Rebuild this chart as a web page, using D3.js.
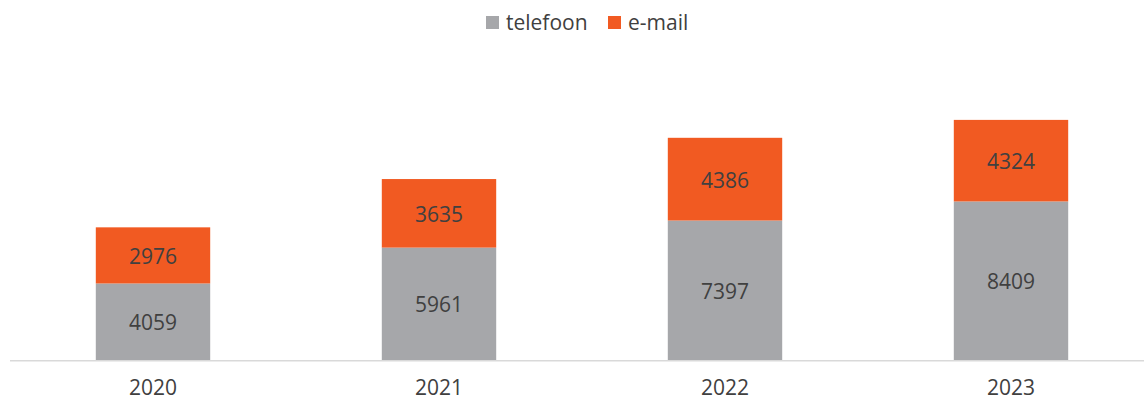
<!DOCTYPE html>
<html>
<head>
<meta charset="utf-8">
<script src="https://cdn.jsdelivr.net/npm/d3@7"></script>
<style>
  body { margin: 0; background: #fff; }
  text { font-family: "Open Sans", sans-serif; fill: #404040; }
</style>
</head>
<body>
<div id="chart"></div>
<script>
const years = ["2020", "2021", "2022", "2023"];
const telefoon = [4059, 5961, 7397, 8409];
const email = [2976, 3635, 4386, 4324];
const seriesNames = ["telefoon", "e-mail"];
const colors = ["#a6a7aa", "#f15a22"];

const WIDTH = 1144, HEIGHT = 400;
const MARGIN = { TOP: 96, BOTTOM: 40, LEFT: 10, RIGHT: -10 };

const svg = d3.select("#chart").append("svg")
  .attr("width", WIDTH).attr("height", HEIGHT);

const data = years.map((y, i) => ({ year: y, telefoon: telefoon[i], "e-mail": email[i] }));
const stacked = d3.stack().keys(seriesNames)(data);

const x = d3.scaleBand()
  .domain(years)
  .range([MARGIN.LEFT, WIDTH - MARGIN.RIGHT])
  .paddingInner(0.6)
  .paddingOuter(0.3);

const y = d3.scaleLinear()
  .domain([0, 14000])
  .range([HEIGHT - MARGIN.BOTTOM, MARGIN.TOP]);

const layer = svg.selectAll("g.layer").data(stacked).enter()
  .append("g").attr("class", "layer")
  .attr("fill", (d, i) => colors[i]);

layer.selectAll("rect").data(d => d).enter().append("rect")
  .attr("x", d => x(d.data.year))
  .attr("width", x.bandwidth())
  .attr("y", d => y(d[1]))
  .attr("height", d => y(d[0]) - y(d[1]));

layer.selectAll("text").data(d => d).enter().append("text")
  .attr("x", d => x(d.data.year) + x.bandwidth() / 2)
  .attr("y", d => (y(d[0]) + y(d[1])) / 2 + 1)
  .attr("dy", "0.35em")
  .attr("text-anchor", "middle")
  .style("font-size", "21px")
  .text(d => d[1] - d[0]);

// axis
svg.append("line")
  .attr("x1", MARGIN.LEFT).attr("x2", WIDTH)
  .attr("y1", y(0) + 0.75).attr("y2", y(0) + 0.75)
  .attr("stroke", "#d9d9d9").attr("stroke-width", 1.5);

svg.selectAll("text.year").data(years).enter().append("text")
  .attr("class", "year")
  .attr("x", d => x(d) + x.bandwidth() / 2)
  .attr("y", 395)
  .attr("text-anchor", "middle")
  .style("font-size", "21px")
  .text(d => d);

// legend
const legendX = [486, 608];
const legend = svg.selectAll("g.legend").data(seriesNames).enter()
  .append("g").attr("class", "legend")
  .attr("transform", (d, i) => `translate(${legendX[i]}, 16)`);
legend.append("rect").attr("width", 13).attr("height", 13)
  .attr("fill", (d, i) => colors[i]);
legend.append("text").attr("x", 20).attr("y", 7).attr("dy", "0.35em")
  .style("font-size", "21px").text(d => d);
</script>
</body>
</html>
